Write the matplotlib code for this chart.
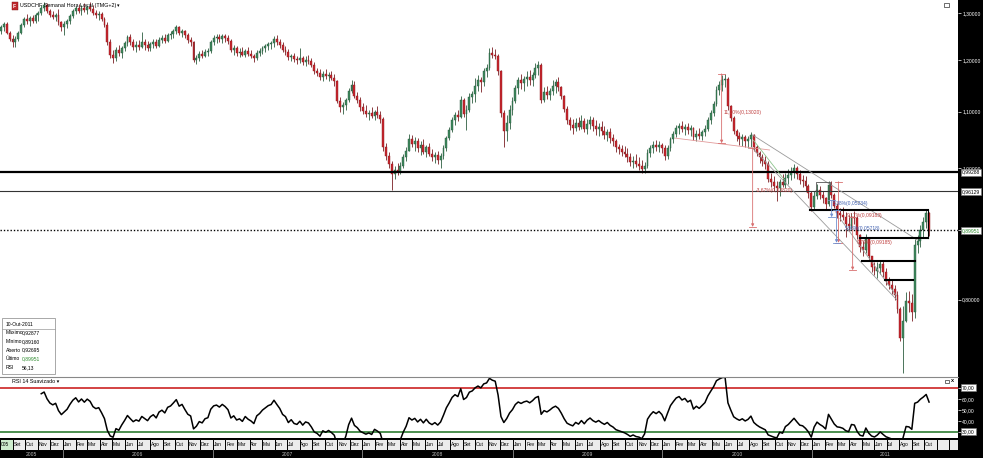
import numpy as np
import pandas as pd
import matplotlib
matplotlib.use('Agg')
import matplotlib.pyplot as plt
import matplotlib.dates as mdates
from matplotlib.patches import Rectangle
from matplotlib.ticker import FixedLocator, NullLocator, FuncFormatter

plt.rcParams['font.family'] = ['Liberation Sans', 'DejaVu Sans']

# ---- weekly USD/CHF candles, from the week of 1 Aug 2005 to 10 Oct 2011
first_week = '2005-08-01'
first_open = 1.262
highs = [
    1.275, 1.280, 1.280, 1.262, 1.252, 1.250, 1.262, 1.278, 1.292, 1.298,
    1.294, 1.296, 1.300, 1.305, 1.318, 1.324, 1.322, 1.310, 1.305, 1.300,
    1.310, 1.284, 1.282, 1.288, 1.298, 1.310, 1.316, 1.320, 1.318, 1.322,
    1.318, 1.325, 1.318, 1.308, 1.305, 1.302, 1.292, 1.280, 1.245, 1.222,
    1.228, 1.232, 1.230, 1.240, 1.252, 1.254, 1.245, 1.240, 1.242, 1.260,
    1.244, 1.240, 1.238, 1.244, 1.245, 1.248, 1.252, 1.256, 1.258, 1.262,
    1.266, 1.275, 1.272, 1.266, 1.264, 1.258, 1.248, 1.240, 1.212, 1.220,
    1.222, 1.224, 1.226, 1.242, 1.252, 1.254, 1.256, 1.254, 1.256, 1.252,
    1.244, 1.232, 1.230, 1.226, 1.228, 1.224, 1.228, 1.222, 1.214, 1.222,
    1.226, 1.230, 1.234, 1.238, 1.240, 1.250, 1.252, 1.244, 1.238, 1.230,
    1.224, 1.214, 1.216, 1.208, 1.225, 1.210, 1.208, 1.212, 1.204, 1.196,
    1.184, 1.182, 1.178, 1.182, 1.176, 1.178, 1.172, 1.160, 1.128, 1.118,
    1.126, 1.146, 1.160, 1.158, 1.138, 1.128, 1.116, 1.112, 1.104, 1.108,
    1.104, 1.110, 1.102, 1.090, 1.044, 1.028, 1.012, 1.004, 1.008, 1.010,
    1.024, 1.036, 1.060, 1.058, 1.054, 1.052, 1.046, 1.050, 1.040, 1.044,
    1.032, 1.028, 1.030, 1.026, 1.040, 1.056, 1.072, 1.090, 1.100, 1.104,
    1.130, 1.126, 1.112, 1.136, 1.140, 1.164, 1.170, 1.166, 1.185, 1.192,
    1.226, 1.228, 1.224, 1.214, 1.180, 1.104, 1.094, 1.112, 1.128, 1.152,
    1.166, 1.172, 1.168, 1.178, 1.180, 1.176, 1.194, 1.198, 1.194, 1.148,
    1.150, 1.146, 1.160, 1.162, 1.166, 1.150, 1.132, 1.110, 1.090, 1.086,
    1.088, 1.090, 1.094, 1.088, 1.086, 1.092, 1.090, 1.084, 1.080, 1.082,
    1.074, 1.068, 1.070, 1.060, 1.050, 1.042, 1.040, 1.038, 1.034, 1.026,
    1.020, 1.024, 1.018, 1.014, 1.010, 1.032, 1.040, 1.046, 1.048, 1.046,
    1.044, 1.040, 1.040, 1.054, 1.064, 1.076, 1.080, 1.082, 1.078, 1.080,
    1.076, 1.072, 1.066, 1.070, 1.066, 1.076, 1.090, 1.104, 1.120, 1.150,
    1.158, 1.170, 1.173, 1.166, 1.112, 1.092, 1.068, 1.062, 1.060, 1.058,
    1.056, 1.062, 1.060, 1.040, 1.030, 1.024, 1.020, 1.012, 0.992, 0.986,
    0.978, 0.982, 0.990, 0.992, 0.998, 1.002, 1.006, 1.004, 0.996, 0.988,
    0.986, 0.974, 0.962, 0.962, 0.974, 0.970, 0.962, 0.952, 0.978, 0.978,
    0.958, 0.942, 0.934, 0.936, 0.928, 0.924, 0.926, 0.930, 0.922, 0.894,
    0.884, 0.894, 0.890, 0.862, 0.852, 0.852, 0.856, 0.854, 0.844, 0.832,
    0.828, 0.820, 0.812, 0.790, 0.792, 0.810, 0.812, 0.808, 0.886, 0.892,
    0.908, 0.920, 0.932, 0.92877,
]
lows = [
    1.255, 1.262, 1.255, 1.240, 1.228, 1.228, 1.240, 1.255, 1.270, 1.276,
    1.272, 1.278, 1.278, 1.284, 1.296, 1.305, 1.300, 1.292, 1.288, 1.282,
    1.275, 1.262, 1.252, 1.268, 1.276, 1.290, 1.298, 1.300, 1.296, 1.302,
    1.298, 1.304, 1.296, 1.290, 1.286, 1.284, 1.270, 1.232, 1.205, 1.195,
    1.198, 1.208, 1.205, 1.220, 1.230, 1.232, 1.222, 1.218, 1.222, 1.225,
    1.222, 1.220, 1.220, 1.226, 1.225, 1.228, 1.235, 1.236, 1.238, 1.244,
    1.246, 1.255, 1.252, 1.248, 1.246, 1.236, 1.230, 1.196, 1.192, 1.198,
    1.204, 1.206, 1.208, 1.216, 1.232, 1.236, 1.238, 1.236, 1.238, 1.234,
    1.218, 1.212, 1.210, 1.206, 1.208, 1.206, 1.208, 1.204, 1.196, 1.200,
    1.210, 1.214, 1.218, 1.222, 1.224, 1.228, 1.232, 1.226, 1.218, 1.212,
    1.200, 1.198, 1.196, 1.192, 1.194, 1.190, 1.188, 1.192, 1.186, 1.172,
    1.168, 1.160, 1.158, 1.162, 1.158, 1.160, 1.150, 1.116, 1.100, 1.096,
    1.104, 1.118, 1.136, 1.125, 1.116, 1.102, 1.096, 1.090, 1.084, 1.088,
    1.084, 1.088, 1.080, 1.030, 1.014, 1.000, 0.964, 0.982, 0.988, 0.990,
    1.000, 1.012, 1.030, 1.036, 1.030, 1.028, 1.022, 1.024, 1.018, 1.020,
    1.012, 1.008, 1.006, 1.000, 1.016, 1.030, 1.048, 1.062, 1.076, 1.082,
    1.088, 1.090, 1.066, 1.100, 1.116, 1.118, 1.140, 1.138, 1.150, 1.166,
    1.180, 1.204, 1.202, 1.170, 1.090, 1.036, 1.046, 1.068, 1.094, 1.116,
    1.134, 1.144, 1.140, 1.150, 1.152, 1.150, 1.164, 1.170, 1.116, 1.118,
    1.124, 1.122, 1.132, 1.136, 1.140, 1.124, 1.100, 1.078, 1.066, 1.060,
    1.064, 1.066, 1.068, 1.062, 1.060, 1.068, 1.064, 1.058, 1.056, 1.058,
    1.050, 1.046, 1.044, 1.038, 1.028, 1.024, 1.020, 1.018, 1.010, 1.004,
    1.000, 1.002, 0.996, 0.992, 0.992, 1.000, 1.018, 1.026, 1.030, 1.028,
    1.026, 1.014, 1.016, 1.030, 1.044, 1.054, 1.060, 1.062, 1.058, 1.060,
    1.056, 1.048, 1.046, 1.050, 1.048, 1.056, 1.064, 1.078, 1.092, 1.110,
    1.132, 1.140, 1.148, 1.104, 1.082, 1.060, 1.046, 1.040, 1.038, 1.036,
    1.034, 1.036, 1.030, 1.020, 1.008, 1.004, 0.998, 0.976, 0.968, 0.962,
    0.946, 0.954, 0.968, 0.966, 0.974, 0.980, 0.984, 0.982, 0.974, 0.968,
    0.962, 0.950, 0.930, 0.932, 0.948, 0.948, 0.942, 0.932, 0.938, 0.950,
    0.934, 0.918, 0.914, 0.916, 0.890, 0.898, 0.902, 0.910, 0.886, 0.868,
    0.862, 0.866, 0.856, 0.838, 0.834, 0.830, 0.836, 0.832, 0.820, 0.814,
    0.808, 0.800, 0.782, 0.746, 0.706, 0.770, 0.784, 0.772, 0.776, 0.866,
    0.874, 0.890, 0.904, 0.8916,
]
closes = [
    1.270, 1.276, 1.258, 1.245, 1.238, 1.245, 1.258, 1.275, 1.288, 1.282,
    1.290, 1.284, 1.296, 1.300, 1.312, 1.318, 1.305, 1.296, 1.292, 1.296,
    1.280, 1.270, 1.276, 1.282, 1.294, 1.305, 1.312, 1.304, 1.312, 1.306,
    1.314, 1.310, 1.300, 1.296, 1.298, 1.288, 1.275, 1.238, 1.212, 1.205,
    1.222, 1.215, 1.226, 1.236, 1.248, 1.238, 1.228, 1.232, 1.228, 1.238,
    1.232, 1.226, 1.234, 1.238, 1.230, 1.242, 1.246, 1.240, 1.252, 1.255,
    1.262, 1.270, 1.258, 1.262, 1.252, 1.242, 1.238, 1.200, 1.205, 1.214,
    1.210, 1.218, 1.220, 1.238, 1.246, 1.248, 1.244, 1.250, 1.246, 1.240,
    1.222, 1.226, 1.216, 1.218, 1.212, 1.220, 1.214, 1.210, 1.204, 1.216,
    1.220, 1.226, 1.230, 1.234, 1.236, 1.244, 1.238, 1.232, 1.222, 1.218,
    1.206, 1.210, 1.202, 1.200, 1.204, 1.196, 1.200, 1.198, 1.190, 1.178,
    1.174, 1.166, 1.172, 1.168, 1.170, 1.165, 1.158, 1.120, 1.108, 1.112,
    1.122, 1.140, 1.152, 1.130, 1.122, 1.108, 1.102, 1.096, 1.098, 1.092,
    1.100, 1.094, 1.086, 1.036, 1.020, 1.006, 0.990, 0.996, 0.994, 1.004,
    1.018, 1.030, 1.050, 1.042, 1.046, 1.034, 1.040, 1.028, 1.036, 1.024,
    1.018, 1.022, 1.014, 1.020, 1.034, 1.052, 1.066, 1.084, 1.094, 1.090,
    1.122, 1.096, 1.104, 1.128, 1.134, 1.150, 1.160, 1.156, 1.178, 1.184,
    1.216, 1.212, 1.210, 1.178, 1.098, 1.064, 1.080, 1.104, 1.120, 1.146,
    1.160, 1.154, 1.162, 1.166, 1.160, 1.170, 1.184, 1.190, 1.122, 1.138,
    1.132, 1.140, 1.150, 1.156, 1.148, 1.130, 1.106, 1.084, 1.076, 1.070,
    1.080, 1.072, 1.082, 1.068, 1.078, 1.084, 1.074, 1.068, 1.072, 1.064,
    1.058, 1.062, 1.052, 1.046, 1.036, 1.032, 1.028, 1.024, 1.018, 1.010,
    1.012, 1.006, 1.004, 0.998, 1.004, 1.026, 1.034, 1.040, 1.036, 1.040,
    1.034, 1.020, 1.034, 1.050, 1.060, 1.070, 1.074, 1.068, 1.072, 1.066,
    1.070, 1.054, 1.060, 1.056, 1.062, 1.068, 1.084, 1.098, 1.114, 1.142,
    1.152, 1.160, 1.162, 1.110, 1.088, 1.064, 1.056, 1.050, 1.054, 1.046,
    1.050, 1.058, 1.036, 1.026, 1.018, 1.012, 1.006, 0.982, 0.976, 0.970,
    0.966, 0.976, 0.972, 0.984, 0.988, 0.994, 1.000, 0.990, 0.980, 0.978,
    0.970, 0.958, 0.936, 0.954, 0.964, 0.956, 0.950, 0.940, 0.972, 0.956,
    0.938, 0.926, 0.924, 0.920, 0.910, 0.906, 0.920, 0.918, 0.892, 0.874,
    0.870, 0.886, 0.862, 0.846, 0.840, 0.844, 0.850, 0.838, 0.826, 0.820,
    0.814, 0.806, 0.788, 0.750, 0.772, 0.798, 0.796, 0.784, 0.878, 0.884,
    0.900, 0.912, 0.92695, 0.89951,
]
opens = [first_open] + closes[:-1]

levels = [0.99288, 0.96129]
last_price = 0.89951
price_ticks = [0.8, 0.9, 1.0, 1.1, 1.2, 1.3]
rsi_period = 14
rsi_ticks = [30, 40, 50, 60, 70]
months_pt = ['Jan', 'Fev', 'Mar', 'Abr', 'Mai', 'Jun', 'Jul', 'Ago', 'Set', 'Out', 'Nov', 'Dez']
info_rows = [('Máximo', '0,92877'), ('Mínimo', '0,89160'), ('Aberto', '0,92695'),
             ('Último', '0,89951'), ('RSI', '56,13')]

# drawing tools on the chart: (week, price) anchors
trend_lines = [
    ((234.5, 1.052), (267.5, 1.031), '#e29a9a'),
    ((261.6, 1.0575), (319.0, 0.885), '#9a9a9a'),
    ((261.6, 1.034), (311.7, 0.800), '#9a9a9a'),
    ((261.9, 1.048), (272.7, 0.980), '#8cc48c'),
    ((292.0, 0.918), (311.7, 0.805), '#9a9a9a'),
]
box_levels = [(281.4, 322.6, 0.931), (298.8, 322.6, 0.888),
              (299.5, 318.0, 0.854), (307.6, 317.3, 0.827)]
measures = [
    (250.8, 1.1731, 1.0429, '#d87070'),
    (261.6, 1.034, 0.905, '#d87070'),
    (291.5, 0.977, 0.881, '#d87070'),
    (289.1, 0.947, 0.920, '#7090d0'),
    (290.8, 0.931, 0.881, '#7090d0'),
    (296.4, 0.920, 0.841, '#d87070'),
]
measure_labels = [
    (251.5, 1.0977, '11,10%(0,13020)', '#c04040'),
    (262.7, 0.9618, '-3,67%(0,03820)', '#c04040'),
    (289.5, 0.9408, '5,38%(0,05234)', '#4060b0'),
    (294.3, 0.9220, '9,17%(0,09183)', '#c04040'),
    (293.6, 0.9020, '5,98%(0,05718)', '#4060b0'),
    (297.8, 0.8810, '9,79%(0,09185)', '#c04040'),
]

# ---- RSI 14 with Wilder smoothing, seeded by the first 14 changes
delta = np.diff(closes)
gains = np.clip(delta, 0, None)
losses = np.clip(-delta, 0, None)
avg_g = [gains[:rsi_period].mean()]
avg_l = [losses[:rsi_period].mean()]
for g, lo in zip(gains[rsi_period:], losses[rsi_period:]):
    avg_g.append((avg_g[-1] * (rsi_period - 1) + g) / rsi_period)
    avg_l.append((avg_l[-1] * (rsi_period - 1) + lo) / rsi_period)
rsi = 100 - 100 / (1 + np.array(avg_g) / np.array(avg_l))

W, H = 983, 458
fig = plt.figure(figsize=(W / 100, H / 100), dpi=100, facecolor='black')


def frame(x0, y0, x1, y1):
    return [x0 / W, 1 - y1 / H, (x1 - x0) / W, (y1 - y0) / H]


def ftext(x, y, s, **kw):
    return fig.text(x / W, 1 - y / H, s, **kw)


ax = fig.add_axes(frame(0, 0, 958, 377))
ax_rsi = fig.add_axes(frame(0, 377, 958, 438))
ax_date = fig.add_axes(frame(0, 438, 958, 458))

t0 = mdates.date2num(pd.Timestamp(first_week))
t1 = t0 + 2334


def wx(i):
    return t0 + 7 * np.asarray(i) + 2.5


n = len(closes)
xs = wx(np.arange(n))
o, h, l, c = map(np.asarray, (opens, highs, lows, closes))
up = c >= o
body_lo = np.minimum(o, c)
body_hi = np.maximum(o, c)
body_h = np.maximum(body_hi - body_lo, body_lo * 0.0012)

# ---- price panel
ax.set_facecolor('white')
ax.set_yscale('log')
ax.set_xlim(t0, t1)
ax.set_ylim(0.7017, 1.3294)
ax.vlines(xs, l, h, color=np.where(up, '#2d5e40', '#7a1e22'), lw=0.6, zorder=2)
ax.bar(xs[up], body_h[up], bottom=body_lo[up], width=4.6, color='#3f8a5e',
       edgecolor='#24553a', linewidth=0.3, zorder=3)
ax.bar(xs[~up], body_h[~up], bottom=body_lo[~up], width=4.6, color='#c8262d',
       edgecolor='#8c1a1f', linewidth=0.3, zorder=3)

ax.axhline(levels[0], color='black', lw=1.6, zorder=4)
ax.axhline(levels[1], color='#333333', lw=0.8, zorder=4)
ax.axhline(last_price, color='black', lw=1.0, ls=(0, (1, 1.4)), zorder=4)

for (i0, p0), (i1, p1), col in trend_lines:
    ax.plot(wx([i0, i1]), [p0, p1], color=col, lw=0.6, zorder=4)
for i0, i1, p in box_levels:
    ax.plot(wx([i0, i1]), [p, p], color='black', lw=1.5, zorder=5)
ax.plot(wx([322.6, 322.6]), [box_levels[0][2], box_levels[1][2]], color='black', lw=0.8, zorder=5)
ax.plot(wx([283.5, 283.5, 288.5, 288.5]), [0.962, 0.977, 0.977, 0.962], color='#555555', lw=0.6, zorder=4)
for i, p_top, p_bot, col in measures:
    ax.plot(wx([i - 1.2, i + 1.2]), [p_top, p_top], color=col, lw=0.6, zorder=5)
    ax.plot(wx([i - 1.2, i + 1.2]), [p_bot, p_bot], color=col, lw=0.6, zorder=5)
    ax.annotate('', xy=(wx(i), p_bot), xytext=(wx(i), p_top),
                arrowprops=dict(arrowstyle='-|>', color=col, lw=0.6, mutation_scale=4,
                                shrinkA=0, shrinkB=0), zorder=5)
for i, p, s, col in measure_labels:
    ax.text(wx(i), p, s, color=col, fontsize=3.6, va='center', ha='left', zorder=6)

ax.set_xticks([])
ax.yaxis.tick_right()
ax.yaxis.set_major_locator(FixedLocator(price_ticks))
ax.yaxis.set_minor_locator(NullLocator())
ax.yaxis.set_major_formatter(FuncFormatter(lambda v, p: f'{v:.5f}'.replace('.', ',')))
ax.tick_params(axis='y', colors='white', labelsize=3.6, length=2, width=0.5, pad=1)
for sp in ax.spines.values():
    sp.set_visible(False)

box = dict(boxstyle='square,pad=0.2', fc='white', ec='#777777', lw=0.4)
for p, col in [(levels[0], 'black'), (levels[1], 'black'), (last_price, '#2e8b2e')]:
    ax.text(1.004, p, f'{p:.5f}'.replace('.', ','), transform=ax.get_yaxis_transform(),
            fontsize=3.6, color=col, va='center', ha='left', bbox=box, clip_on=False, zorder=10)

# header text and icons
ftext(13, 6, 'F', fontsize=3.6, color='white', weight='bold', va='center',
      bbox=dict(boxstyle='square,pad=0.3', fc='#c0282d', ec='#801010', lw=0.3))
ftext(20, 6, 'USDCHF Semanal Hora Local (TMG+2)', fontsize=3.9, color='black', va='center')
ftext(117, 6, '▾', fontsize=3.6, color='black', va='center')
fig.add_artist(Rectangle((944 / W, 1 - 7 / H), 5 / W, 4 / H, transform=fig.transFigure,
                         fc='white', ec='#333333', lw=0.5))

# info box
fig.add_artist(Rectangle((2 / W, 1 - 374 / H), 53 / W, 56 / H, transform=fig.transFigure,
                         fc='white', ec='#9a9a9a', lw=0.6, zorder=8))
fig.add_artist(plt.Line2D([2 / W, 55 / W], [1 - 329 / H, 1 - 329 / H], color='#9a9a9a', lw=0.5, zorder=9))
ftext(6, 324, '10-Out-2011', fontsize=3.6, va='center', zorder=10)
for k, (name, val) in enumerate(info_rows):
    y = 333 + k * 8.6
    ftext(6, y, name, fontsize=3.6, va='center', zorder=10)
    ftext(22, y, val, fontsize=3.6, va='center', zorder=10,
          color='#2e8b2e' if name == 'Último' else 'black')

# ---- RSI panel
ax_rsi.set_facecolor('white')
ax_rsi.set_xlim(t0, t1)
ax_rsi.set_ylim(24.5, 80)
ax_rsi.axhline(70, color='#cc2222', lw=1.2)
ax_rsi.axhline(30, color='#2e7d32', lw=1.2)
ax_rsi.plot(xs[rsi_period:], rsi, color='black', lw=1.1)
ax_rsi.set_xticks([])
ax_rsi.yaxis.tick_right()
ax_rsi.yaxis.set_major_locator(FixedLocator(rsi_ticks))
ax_rsi.yaxis.set_major_formatter(FuncFormatter(lambda v, p: f'{v:.2f}'.replace('.', ',')))
ax_rsi.tick_params(axis='y', colors='white', labelsize=3.6, length=2, width=0.5, pad=1)
for sp in ax_rsi.spines.values():
    sp.set_visible(False)
ax_rsi.spines['top'].set_visible(True)
ax_rsi.spines['top'].set_color('#888888')
ax_rsi.spines['top'].set_linewidth(0.8)
for v in (70, 30):
    ax_rsi.text(1.004, v, f'{v:.2f}'.replace('.', ','), transform=ax_rsi.get_yaxis_transform(),
                fontsize=3.6, va='center', ha='left', bbox=box, clip_on=False, zorder=10)
ax_rsi.text(0.013, 0.93, 'RSI 14 Suavizado ▾', transform=ax_rsi.transAxes, fontsize=3.9, va='center')
fig.add_artist(Rectangle((945 / W, 1 - 383 / H), 4 / W, 3 / H, transform=fig.transFigure,
                         fc='white', ec='#333333', lw=0.5))
ftext(951, 381, 'x', fontsize=4, va='center', weight='bold')

# ---- date band
ax_date.set_facecolor('black')
ax_date.set_xlim(t0, t1)
ax_date.set_ylim(20, 0)
ax_date.axis('off')
last_label = pd.Timestamp('2011-10-01')
for m in pd.date_range('2005-08-01', '2011-12-01', freq='MS'):
    m0 = mdates.date2num(m)
    m1 = mdates.date2num(m + pd.offsets.MonthBegin(1))
    first = m == pd.Timestamp('2005-08-01')
    ax_date.add_patch(Rectangle((m0, 0.6), m1 - m0, 11, fc='#cdeccd' if first else '#ececec',
                                ec='black', lw=0.7))
    if m <= last_label:
        ax_date.text(m0 + 2, 6.2, '005' if first else months_pt[m.month - 1],
                     fontsize=3.5, va='center', ha='left', clip_on=True)
for yr in range(2005, 2012):
    y0 = max(mdates.date2num(pd.Timestamp(f'{yr}-01-01')), t0)
    y1 = min(mdates.date2num(pd.Timestamp(f'{yr + 1}-01-01')), t1)
    ax_date.text((y0 + y1) / 2, 16, str(yr), color='#bdbdbd', fontsize=3.6, ha='center', va='center')
    if yr > 2005:
        ax_date.plot([y0, y0], [12, 20], color='#8a8a8a', lw=0.6)

fig.savefig('out.png', dpi=100, facecolor='black')
